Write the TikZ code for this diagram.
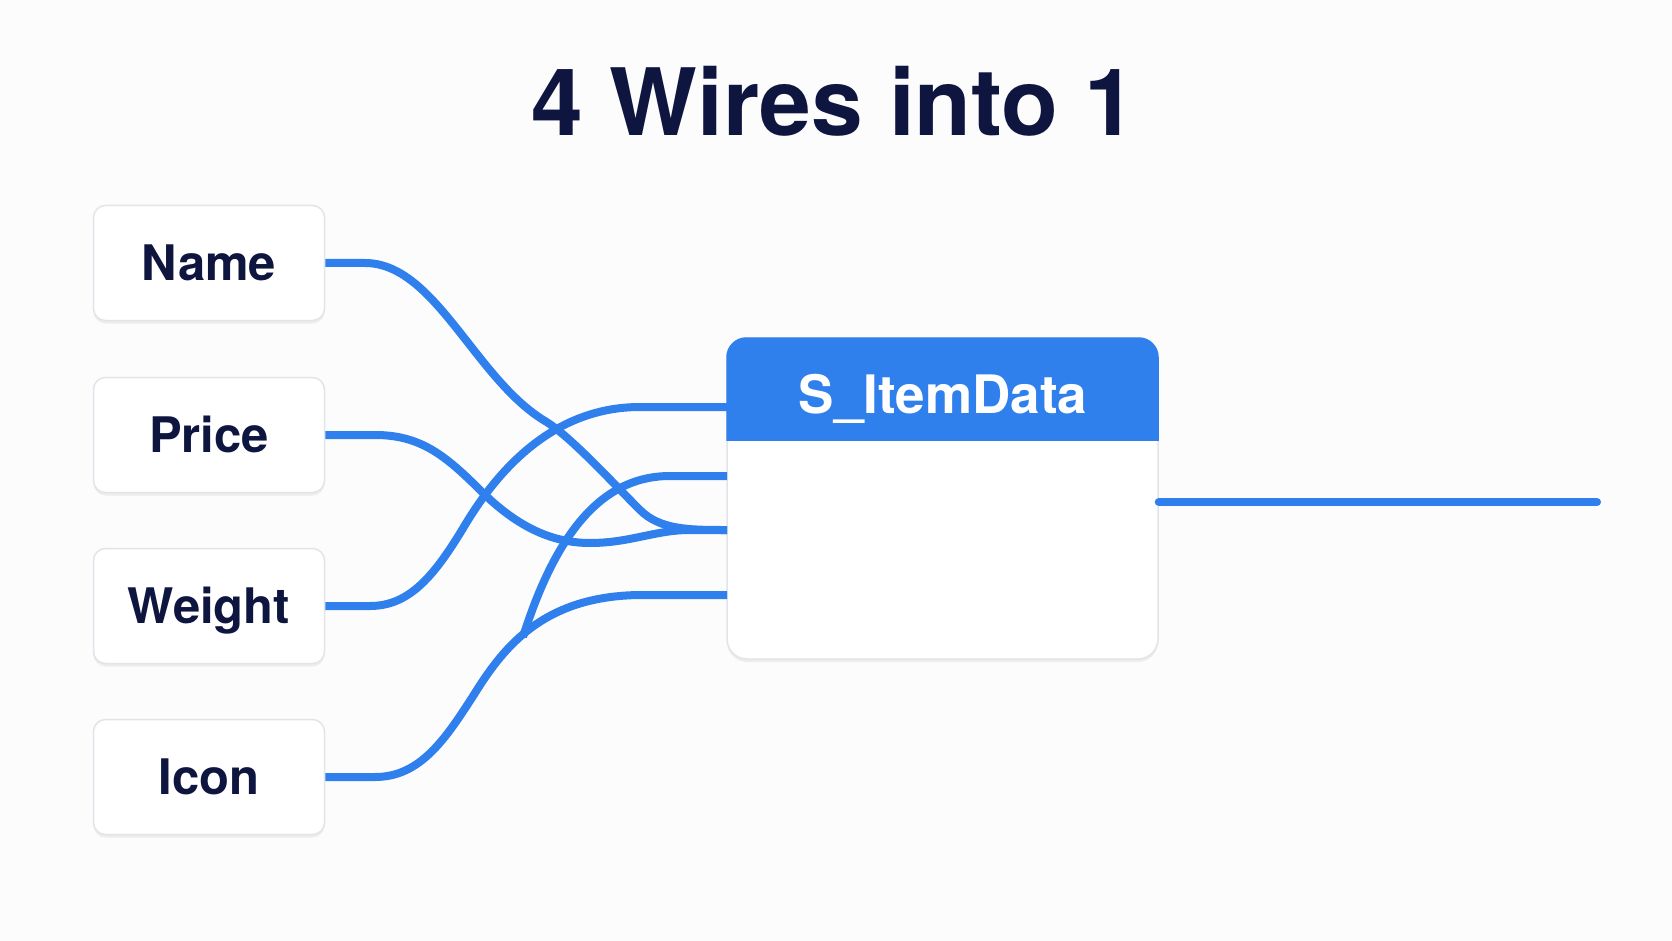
\documentclass[tikz,border=0pt]{standalone}
\usepackage{fontspec}
\setmainfont{TeX Gyre Heros}
\usetikzlibrary{shadows}
\definecolor{bg}{HTML}{FCFCFD}
\definecolor{wirec}{HTML}{2F80ED}
\definecolor{ink}{HTML}{0E1640}
\definecolor{edgec}{HTML}{E1E4E8}
\begin{document}
\begin{tikzpicture}[x=1pt,y=-1pt,
  field/.style={draw=edgec, line width=1.5pt, fill=white, rounded corners=12pt,
    minimum width=231pt, minimum height=115pt, inner sep=0pt,
    text height=35pt, text depth=0pt, text=ink,
    font=\fontsize{49}{49}\selectfont\bfseries,
    drop shadow={shadow xshift=0pt, shadow yshift=-3pt, opacity=0.06, fill=black}},
  wire/.style={draw=wirec, line width=8pt},
  titlefont/.style={font=\fontsize{93}{93}\selectfont\bfseries, text=ink}]
\useasboundingbox (0,0) rectangle (1672,941);
\fill[bg] (0,0) rectangle (1672,941);

\node[titlefont, anchor=base] (title) at (834,136) {4 Wires into 1};

\node[field] (name) at (209,263) {Name};
\node[field] (price) at (209,435) {Price};
\node[field] (weight) at (209,606) {Weight};
\node[field] (icon) at (209,777) {Icon};

\node[draw=edgec, line width=1.5pt, fill=white, rounded corners=20pt,
  minimum width=431pt, minimum height=321pt, inner sep=0pt,
  drop shadow={shadow xshift=0pt, shadow yshift=-3pt, opacity=0.06, fill=black}] (item) at (942.5,498.5) {};
\begin{scope}
  \clip (700,320) rectangle (1180,440);
  \fill[wirec, rounded corners=20pt] (item.north west) rectangle (item.south east);
\end{scope}
\node[anchor=base, text=white, font=\fontsize{53}{53}\selectfont\bfseries] (hdr) at (943,413) {S\_ItemData};

\coordinate (p1) at (727,407);
\coordinate (p2) at (727,476);
\coordinate (p3) at (727,530);
\coordinate (p4) at (727,595);
\coordinate (j) at (523,637);
\coordinate (o2) at (1597,502);
\coordinate (o1) at (item.east |- o2);

\draw[wire] (name.east) -- (365,263) .. controls (435,263) and (475,379) .. (545,421)
  .. controls (570,436) and (610,480) .. (640,510)
  .. controls (660,530) and (690,530) .. (p3);
\draw[wire] (price.east) -- (375,435) .. controls (420,435) and (445,455) .. (480,490)
  .. controls (515,525) and (550,543) .. (590,543)
  .. controls (630,543) and (655,530) .. (690,530) -- (p3);
\draw[wire] (weight.east) -- (370,606) .. controls (410,606) and (435,575) .. (465,525)
  .. controls (495,475) and (550,407) .. (640,407) -- (p1);
\draw[wire] (icon.east) -- (375,777) .. controls (420,777) and (445,740) .. (475,693)
  .. controls (505,645) and (545,596) .. (640,595) -- (p4);
\draw[wire] (p2) -- (670,476) .. controls (610,476) and (560,520) .. (j);
\draw[wire, line cap=round] (o1) -- (o2);
\end{tikzpicture}
\end{document}
